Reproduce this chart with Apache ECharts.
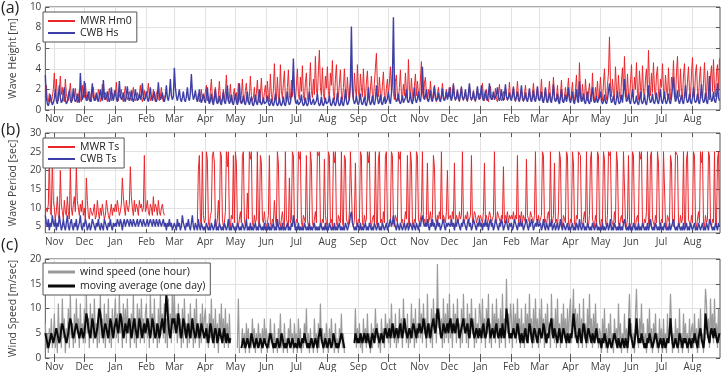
<!DOCTYPE html>
<html>
<head>
<meta charset="utf-8">
<script src="https://cdn.jsdelivr.net/npm/echarts@6/dist/echarts.min.js"></script>
<style>
  html, body { margin: 0; padding: 0; background: #fff; }
  #chart { width: 724px; height: 372px; }
</style>
</head>
<body>
<div id="chart"></div>
<script>
// each series is kept as one row of daily values per month, starting at monthStarts[m]
const monthStarts = ['2013-10-23', '2013-11-01', '2013-12-01', '2014-01-01', '2014-02-01', '2014-03-01',
  '2014-04-01', '2014-05-01', '2014-06-01', '2014-07-01', '2014-08-01', '2014-09-01', '2014-10-01',
  '2014-11-01', '2014-12-01', '2015-01-01', '2015-02-01', '2015-03-01', '2015-04-01', '2015-05-01',
  '2015-06-01', '2015-07-01', '2015-08-01'];
const monthNames = ['Jan', 'Feb', 'Mar', 'Apr', 'May', 'Jun', 'Jul', 'Aug', 'Sep', 'Oct', 'Nov', 'Dec'];
const monthTicks = monthStarts.slice(1);
const xStart = '2013-10-23';
const xEnd = '2015-08-28T12:00:00Z';

const heightTicks = [0, 2, 4, 6, 8, 10];
const windTicks = [0, 5, 10, 15, 20];

// (a) wave height [m]
const mwrHm0 = [
  [1.2,2.4,1.0,0.8,1.6,1.1,0.7,1.3,2.0],
  [3.6,1.4,3.0,1.2,0.9,1.8,3.3,1.5,2.2,1.0,0.8,3.0,1.6,1.1,0.9,1.7,2.6,1.3,0.9,1.5,1.2,2.1,1.0,0.7,1.3,1.9,1.1,0.8,2.4,1.4],
  [1.2,2.6,1.5,0.9,1.1,1.8,1.3,0.8,1.6,2.2,1.2,0.9,1.4,1.0,2.0,1.5,0.8,1.2,2.5,1.4,1.0,1.7,1.2,0.8,1.4,2.1,1.3,0.9,1.6,1.1,1.9],
  [1.4,2.7,1.3,0.9,1.5,1.2,2.0,1.1,0.8,1.6,2.3,1.3,1.0,1.4,1.8,1.2,0.9,1.5,2.2,1.1,0.9,1.3,1.7,1.0,1.5,2.4,1.2,0.8,1.3,1.9,1.1],
  [1.0,1.6,2.6,1.3,0.9,1.4,1.1,2.0,1.2,0.8,1.5,1.9,1.1,0.9,1.3,2.2,1.2,0.8,1.4,null,null,null,null,null,null,null,null,null],
  [null,null,null,null,null,null,null,null,null,null,null,null,null,null,null,null,null,null,null,null,null,null,null,1.0,1.6,0.8,1.2,2.0,0.9,1.4,1.1],
  [1.2,2.4,0.9,1.3,0.7,1.8,3.0,1.1,0.8,1.5,2.2,0.9,0.7,1.4,2.8,1.2,0.8,1.1,2.0,0.9,1.6,3.4,1.3,0.8,1.2,2.5,1.0,0.7,1.5,2.1],
  [1.0,1.7,0.8,2.6,1.2,0.7,1.4,3.0,1.1,0.8,1.9,2.6,1.0,0.7,1.3,3.3,1.4,0.9,1.2,2.2,0.8,1.6,2.9,1.1,0.7,1.5,3.1,1.2,0.8,1.7,2.4],
  [1.0,2.8,1.3,0.8,3.5,1.5,0.9,2.0,4.5,1.6,1.0,3.2,1.2,0.8,4.4,1.9,1.1,2.6,3.8,1.2,0.8,2.2,3.9,1.4,0.9,2.9,1.3,3.6,1.5,1.0],
  [2.4,4.0,1.5,1.0,3.2,1.8,4.3,1.4,0.9,2.7,3.6,1.2,0.8,2.2,4.6,1.9,1.2,3.0,1.5,5.2,2.0,1.3,3.8,5.8,2.2,1.4,4.1,1.6,1.0,3.3,2.1],
  [4.2,1.8,1.1,3.6,2.4,4.8,1.7,1.0,3.0,4.4,1.9,1.2,2.6,3.9,1.5,1.0,2.2,4.0,1.8,1.1,3.2,1.4,0.9,2.5,4.2,1.6,1.0,3.6,2.0,1.2,4.4],
  [1.8,1.1,3.5,2.2,1.3,4.0,1.6,1.0,2.7,3.8,1.4,0.9,2.0,3.3,1.5,1.0,2.6,4.1,5.5,2.4,1.3,3.2,1.6,1.0,2.4,3.7,1.4,0.9,2.1,3.0],
  [1.5,2.6,4.2,1.8,3.8,1.6,1.0,2.8,3.4,1.3,0.9,2.2,3.9,1.5,1.0,2.5,1.4,3.6,1.7,1.0,4.9,2.0,1.2,3.1,1.5,0.9,2.3,3.5,1.4,2.8,1.6],
  [1.2,3.0,4.7,1.8,1.1,2.6,3.2,1.4,0.9,2.0,1.2,2.8,1.5,0.9,1.8,2.4,1.1,0.8,1.6,2.2,1.2,0.9,1.5,2.6,1.3,0.9,1.4,2.0,1.1,1.7],
  [1.3,2.2,1.0,1.5,2.6,1.4,0.9,1.3,2.0,1.1,0.8,1.6,2.3,1.2,0.9,1.4,1.8,1.1,0.8,1.5,2.4,1.3,0.9,1.2,1.9,1.0,0.8,1.4,2.1,1.2,1.6],
  [1.1,1.8,2.6,1.2,0.9,1.5,2.0,1.1,0.8,1.4,2.3,1.3,1.0,1.6,1.2,2.1,1.0,0.8,1.5,2.5,1.3,0.9,1.2,1.8,1.0,2.2,1.4,0.9,1.3,2.7,1.2],
  [1.0,1.6,2.3,1.1,0.8,1.4,2.8,1.3,0.9,1.2,1.9,1.0,0.8,1.5,2.4,1.2,0.9,1.3,2.0,1.1,0.8,1.6,2.6,1.2,0.9,1.4,2.2,1.1],
  [0.9,1.5,3.0,1.2,0.8,1.3,2.1,1.0,0.7,1.6,2.8,1.2,0.8,1.4,3.2,1.3,0.9,1.2,2.4,1.0,0.7,1.5,2.9,1.1,0.8,1.3,2.2,1.0,1.8,3.1,1.2],
  [0.9,1.6,2.7,1.1,0.8,1.9,3.4,1.2,0.9,4.6,1.8,1.0,2.5,1.3,0.8,3.0,1.4,0.9,1.6,2.6,1.1,0.8,3.6,1.5,0.9,2.2,1.2,2.8,1.0,1.7],
  [3.2,1.4,0.9,2.6,4.0,1.5,1.0,2.4,3.6,7.1,2.5,1.3,3.0,1.6,1.0,4.2,2.0,1.2,3.4,1.5,0.9,2.8,4.1,1.6,5.2,2.2,1.2,3.5,1.5,1.0,2.6],
  [4.4,1.8,1.1,3.2,2.0,4.6,1.6,1.0,3.8,2.2,1.3,4.3,1.8,1.1,3.0,4.0,1.7,5.8,2.4,1.4,3.6,1.7,4.6,2.0,1.2,3.4,4.2,1.6,1.0,3.0],
  [2.2,4.5,1.8,1.1,3.4,2.0,1.3,4.1,1.7,1.0,3.2,2.3,4.8,1.9,1.2,3.6,5.2,2.1,1.3,4.0,1.8,1.1,3.3,4.5,1.8,1.1,2.8,4.2,1.9,1.2,3.5],
  [5.1,2.0,1.2,3.6,4.4,1.8,1.1,3.0,4.2,1.7,1.0,2.6,4.6,2.0,1.2,3.8,1.7,1.0,3.2,4.3,1.8,4.9,2.1,1.3,3.7,4.4,1.9,5.0]
];
const cwbHs = [
  [3.4,1.2,0.6,0.4,0.8,1.5,0.9,0.5,0.7],
  [1.1,2.0,0.9,0.6,1.3,2.4,1.2,0.7,0.9,1.6,2.2,1.0,0.6,0.8,1.4,1.9,1.0,0.7,1.2,2.1,1.1,0.8,1.0,1.6,0.9,0.7,3.6,1.8,1.0,1.3],
  [2.8,1.4,0.9,1.2,1.8,1.0,0.8,1.5,2.6,1.3,0.9,1.1,1.7,1.0,0.8,1.4,2.0,1.2,0.9,2.9,1.5,1.0,1.2,1.8,1.1,0.8,1.3,2.2,1.2,0.9,1.4],
  [1.9,1.1,0.8,1.3,2.8,1.4,1.0,1.2,1.7,1.0,0.8,1.5,2.3,1.2,0.9,1.3,1.9,1.1,0.8,1.2,2.0,1.3,0.9,1.1,1.6,1.0,1.4,2.6,1.2,0.9,1.3],
  [1.8,1.1,0.8,1.4,2.2,1.2,0.9,1.3,1.8,1.0,0.8,1.2,2.7,1.4,1.0,1.2,1.7,1.1,0.8,1.3,2.4,1.2,0.9,1.5,3.0,1.4,1.0,1.3],
  [4.1,2.2,1.3,0.9,1.4,2.0,1.1,0.8,1.2,1.8,1.0,0.8,1.3,2.2,1.2,0.9,1.6,3.5,1.7,1.0,1.3,1.9,1.1,0.8,1.2,2.0,1.0,0.7,1.1,1.6,0.9],
  [0.7,1.3,2.2,1.0,0.6,0.9,1.6,0.8,0.5,1.1,2.0,0.9,0.6,0.8,1.4,0.7,0.5,1.0,1.8,0.8,0.6,1.2,2.4,1.0,0.6,0.9,1.5,0.7,0.5,1.0],
  [1.6,0.8,0.5,0.9,2.6,1.1,0.6,0.8,1.4,0.7,0.5,1.0,1.8,0.8,0.5,0.9,1.3,0.6,0.4,0.8,1.5,0.7,0.5,1.1,2.0,0.8,0.5,0.7,1.2,0.6,0.5],
  [0.8,1.4,0.7,0.4,0.6,1.1,0.6,0.4,0.8,1.6,0.7,0.4,0.6,1.2,0.6,0.4,0.7,1.3,0.6,0.4,0.9,1.8,0.8,0.5,0.7,1.4,2.2,5.0,1.6,0.8],
  [0.6,1.0,0.5,0.4,0.8,1.5,0.7,0.4,0.6,1.2,0.6,0.4,0.7,1.8,0.8,0.5,0.6,1.1,0.5,0.4,0.9,1.6,0.7,0.4,0.6,1.3,0.6,0.4,0.7,1.2,0.6],
  [0.5,0.8,1.4,0.6,0.4,0.7,1.2,0.6,0.4,0.8,1.7,0.7,0.4,0.6,1.3,0.6,0.4,0.9,2.0,0.9,0.5,0.7,1.2,2.8,8.1,2.4,1.0,0.6,0.8,1.4,0.7],
  [0.5,0.9,1.6,0.7,0.5,0.8,1.3,0.6,0.4,0.9,2.2,0.9,0.5,0.7,1.4,0.7,0.5,1.0,2.4,1.2,0.6,0.8,1.5,0.7,0.5,0.9,1.3,0.6,0.5,1.1],
  [1.8,0.9,0.6,1.6,3.0,9.0,2.6,1.2,0.8,1.0,1.6,0.8,0.6,0.9,1.4,0.7,0.6,1.2,2.0,0.9,0.7,1.0,1.7,0.8,0.6,1.3,2.2,1.0,0.7,1.1,1.8],
  [1.0,0.8,1.6,4.2,1.8,1.0,1.3,2.0,1.1,0.8,1.2,1.9,1.0,0.8,1.4,2.3,1.2,0.9,1.1,1.7,1.0,0.8,1.3,2.1,1.1,0.9,1.2,1.8,1.0,1.4],
  [2.2,1.2,0.9,1.4,2.5,1.3,1.0,1.2,1.9,1.1,0.9,1.5,2.2,1.2,1.0,1.3,2.0,1.1,0.9,1.6,2.6,1.3,1.0,1.2,1.8,1.1,0.9,1.4,2.3,1.2,1.0],
  [1.5,2.4,1.2,0.9,1.3,1.9,1.1,0.9,1.6,2.6,1.3,1.0,1.2,1.8,1.0,0.9,1.5,2.2,1.2,0.9,1.3,2.0,1.1,0.9,1.4,2.5,1.3,1.0,1.2,1.7,1.1],
  [0.9,1.4,2.2,1.2,0.9,1.3,1.8,1.0,0.8,1.5,2.4,1.2,0.9,1.1,1.7,1.0,0.8,1.3,2.1,1.1,0.8,1.2,1.9,1.0,0.8,1.4,2.3,1.1],
  [0.9,1.2,1.8,0.9,0.7,1.3,2.2,1.0,0.7,1.1,1.7,0.9,0.7,1.4,2.5,1.1,0.8,1.0,1.6,0.8,0.6,1.2,2.0,0.9,0.7,1.0,1.5,0.8,1.3,2.2,1.0],
  [0.7,1.1,1.8,0.8,0.6,1.2,2.0,0.9,0.7,2.8,1.3,0.8,1.0,1.6,0.8,0.6,1.1,1.8,0.8,0.6,1.0,1.5,2.2,1.0,0.7,0.9,1.4,0.7,0.6,1.2],
  [1.8,0.9,0.6,0.8,1.5,0.8,0.6,1.0,1.8,2.6,1.2,0.7,0.9,1.4,0.7,0.5,1.1,1.8,0.8,0.6,0.9,1.5,0.7,0.6,3.0,1.4,0.8,1.0,1.6,0.8,0.6],
  [1.2,2.0,0.9,0.6,0.8,1.4,0.7,0.5,1.0,1.8,0.8,0.6,0.9,1.5,0.7,0.5,1.1,2.4,1.1,0.7,0.9,1.6,0.8,0.6,1.0,1.7,0.8,0.6,1.2,2.0],
  [0.9,0.6,1.1,1.8,0.8,0.6,1.0,1.6,0.8,0.6,1.2,2.2,3.2,1.4,0.8,1.1,1.9,0.9,0.6,1.0,1.5,0.8,0.6,1.3,2.4,1.1,0.7,0.9,1.6,0.8,0.6],
  [1.2,2.2,1.0,0.7,0.9,1.6,0.8,0.6,1.3,2.5,1.1,0.7,0.9,1.7,0.8,0.6,1.4,3.3,1.4,0.8,1.0,1.8,0.9,0.7,1.2,2.6,1.2,0.9]
];

// (b) wave period [sec]
const mwrTs = [
  [8,10,9,11,24,9,8,23,12],
  [10,7,9,13,8,7,20,11,9,7,12,9,8,13,9,7,21,10,8,11,13,9,21,12,10,8,11,9,12,8],
  [10,7,18,12,8,7,10,9,8,9,11,7,8,12,9,7,10,8,11,9,7,8,12,10,8,7,9,11,8,10,9],
  [11,9,12,10,8,9,11,18,13,10,8,12,10,9,11,21,13,10,8,12,9,11,10,8,12,10,11,9,10,24,9],
  [10,12,9,8,11,10,8,13,9,11,10,8,12,9,8,10,11,9,8,null,null,null,null,null,null,null,null,null],
  [null,null,null,null,null,null,null,null,null,null,null,null,null,null,null,null,null,null,null,null,null,null,null,6,20,24,7,5,25,8,6],
  [7,25,23,6,5,8,9,24,25,22,6,5,7,12,6,25,24,7,5,6,9,25,21,25,6,5,8,7,24,6],
  [25,22,6,5,7,9,6,24,25,7,5,6,14,7,25,23,25,6,5,8,6,7,25,6,5,24,22,7,6,9,6],
  [5,6,8,24,6,5,7,6,12,7,5,25,22,6,5,7,9,6,5,25,7,6,5,18,6,7,25,24,6,5],
  [7,6,25,23,25,6,5,8,7,6,24,7,5,6,25,22,6,5,7,9,6,25,24,25,6,5,7,6,23,8,6],
  [5,25,24,6,7,5,25,22,25,6,5,8,7,6,25,6,5,24,23,7,6,5,9,25,25,6,5,7,22,6,5],
  [7,6,25,24,6,5,8,6,7,25,22,25,6,5,7,8,6,25,6,5,23,25,6,7,5,9,6,24,25,6],
  [6,5,7,25,24,6,5,8,7,6,25,23,25,6,7,5,6,9,7,24,6,5,25,22,6,5,7,6,25,24,7],
  [6,7,9,25,6,7,5,8,22,6,7,9,6,8,24,21,7,6,8,7,9,7,25,6,8,7,6,9,20,7],
  [7,8,6,9,7,22,6,8,7,6,9,7,8,25,7,6,8,7,9,6,7,8,24,6,7,9,8,6,7,8,7],
  [8,7,6,9,22,7,8,6,7,9,8,6,7,8,25,7,6,9,8,7,6,8,7,21,6,8,7,9,6,8,7],
  [8,7,9,6,8,7,24,6,8,7,9,6,8,7,6,23,8,7,6,9,8,7,6,8,25,7,6,8],
  [6,7,8,25,24,6,7,5,8,9,6,25,7,6,8,22,6,7,5,9,25,23,6,5,8,7,6,25,24,6,5],
  [7,6,25,22,6,5,8,7,25,25,24,6,5,7,9,6,25,6,5,8,23,25,7,6,5,8,6,25,24,6],
  [5,7,6,25,23,6,5,8,25,24,25,7,6,5,9,6,25,22,6,5,7,8,6,25,25,6,5,7,24,6,5],
  [6,25,24,6,5,7,8,6,25,23,25,6,5,7,6,9,25,6,5,24,25,7,6,5,8,6,25,22,6,5],
  [7,6,25,25,6,5,8,7,6,24,22,6,5,7,25,25,24,6,5,8,6,7,25,6,5,23,25,7,6,5,8],
  [6,25,24,6,5,7,9,6,25,22,25,6,5,8,6,7,25,24,6,5,7,6,25,6,5,23,25,6]
];
const cwbTs = [
  [8,6,5,7,4,6,5,8,6],
  [5,7,4,6,5,8,6,4,5,7,5,4,6,8,5,4,6,7,5,4,6,5,7,4,5,6,8,5,4,6],
  [5,7,6,4,5,6,4,5,7,6,5,4,6,5,7,5,4,6,5,4,7,6,5,4,6,5,7,5,4,6,5],
  [6,5,7,6,5,7,6,4,6,7,5,6,7,6,5,7,6,5,7,6,5,6,7,5,6,7,6,5,7,6,5],
  [6,7,5,6,7,6,5,7,6,5,7,6,5,7,6,5,6,7,5,6,4,6,5,7,5,6,4,5],
  [6,5,4,7,5,6,4,5,8,6,5,4,6,5,7,5,4,6,8,5,4,6,5,4,7,5,4,6,5,4,5],
  [4,6,5,4,5,4,6,5,4,5,7,4,5,4,6,5,4,5,4,6,5,4,5,7,4,5,4,6,5,4],
  [5,4,6,5,4,5,4,6,5,4,5,7,4,5,4,6,4,5,4,5,6,4,5,4,6,5,4,5,4,6,4],
  [5,4,6,4,5,4,5,6,4,5,4,7,5,4,5,4,6,4,5,4,5,6,4,5,4,6,5,8,6,4],
  [5,4,6,4,5,4,5,4,6,5,4,5,4,6,4,5,4,5,6,4,5,4,5,4,6,5,4,5,4,6,4],
  [5,4,6,5,4,5,4,6,4,5,4,5,6,4,5,4,5,4,6,5,4,5,6,8,9,6,5,4,5,4,6],
  [5,4,6,4,5,4,5,6,4,5,4,6,5,4,5,4,6,5,4,5,6,4,5,4,6,5,4,5,6,4],
  [5,6,7,5,6,8,6,5,4,6,5,4,6,5,4,5,6,4,5,6,4,5,6,5,4,6,5,4,6,5,4],
  [6,5,7,8,6,5,6,5,7,5,4,6,5,7,5,6,4,5,7,5,6,4,5,6,7,5,4,6,5,6],
  [6,5,7,5,6,4,6,5,7,6,5,4,6,5,7,6,5,4,6,7,5,6,4,5,7,6,5,4,6,5,7],
  [5,6,4,6,5,7,5,6,4,6,7,5,6,4,5,7,6,5,4,6,5,7,6,4,5,6,7,5,4,6,5],
  [6,4,5,7,6,5,4,6,5,7,5,6,4,5,6,7,5,4,6,5,7,6,4,5,6,5,7,5],
  [5,6,4,5,7,5,4,6,5,4,6,5,7,4,5,6,4,5,6,4,5,7,5,4,6,5,4,5,6,4,5],
  [4,5,6,4,5,4,6,5,4,7,5,4,5,6,4,5,4,6,5,4,5,4,6,5,4,5,6,4,5,4],
  [5,4,6,4,5,4,5,6,4,5,7,4,5,4,6,5,4,5,4,6,4,5,4,6,7,5,4,5,4,6,4],
  [5,4,6,5,4,5,4,6,4,5,4,6,5,4,5,4,6,4,5,7,5,4,5,4,6,5,4,5,4,6],
  [4,5,4,6,5,4,5,4,6,4,5,6,7,5,4,5,4,6,5,4,5,4,6,4,5,6,4,5,4,6,5],
  [4,5,6,4,5,4,6,5,4,5,6,4,5,4,6,5,4,7,6,5,4,5,4,6,5,4,6,5]
];

// (c) wind speed [m/sec]
const windHour = [
  [7,2,5,1,6,3,8,2,4],
  [9,2,6,1,11,3,7,2,12,4,8,1,6,3,10,2,13,4,7,2,9,3,12,5,8,2,11,4,7,3],
  [10,3,13,5,8,2,11,4,9,3,12,5,7,2,10,3,13,4,8,3,11,2,9,4,12,3,7,2,10,4,8],
  [12,4,9,3,13,5,8,2,11,4,10,3,12,5,7,2,9,4,13,3,8,2,11,4,10,3,12,5,8,3,9],
  [11,4,8,2,13,5,9,3,12,4,7,2,10,3,13,6,9,4,11,3,8,2,12,4,9,3,14,5],
  [13,5,9,3,11,4,8,2,10,3,12,5,7,2,9,3,11,4,8,2,10,3,12,4,7,2,9,3,11,4,8],
  [10,3,7,2,9,4,12,3,8,2,10,3,7,1,9,4,11,3,8,2,10,3,7,2,9,3,null,null,null,null],
  [null,null,2,12,1,null,3,6,2,5,1,7,3,6,1,5,2,8,3,6,1,5,2,7,3,5,1,6,2,8,3],
  [6,1,5,2,8,3,5,1,7,2,4,1,6,3,9,2,5,1,7,2,4,1,6,3,8,2,5,1,7,3],
  [5,1,8,2,6,1,4,2,7,3,10,2,5,1,6,2,4,1,8,3,5,1,7,2,11,3,6,1,5,2,7],
  [4,1,6,2,8,3,5,1,7,2,4,1,6,3,9,2,5,1,null,null,null,null,null,null,null,null,null,3,10,2,6],
  [3,7,2,5,1,8,3,6,2,9,3,5,1,7,2,6,3,10,4,7,2,5,1,8,3,6,2,9,4,7],
  [3,8,2,11,4,7,3,9,2,6,3,10,4,8,2,12,5,7,3,9,2,6,3,11,4,8,2,10,3,7,4],
  [12,4,9,3,11,5,8,2,13,4,7,3,10,2,12,5,9,3,19,6,10,4,8,2,12,3,9,4,11,3],
  [13,4,8,2,11,5,9,3,12,4,7,2,10,3,13,5,8,3,11,2,9,4,12,5,8,2,10,3,7,4,11],
  [9,3,12,4,8,2,10,5,13,3,7,2,11,4,9,3,12,5,8,2,10,3,13,4,8,2,16,5,9,3,11],
  [8,2,11,4,9,3,12,5,8,2,10,3,7,2,11,4,9,3,13,5,8,2,10,3,12,4,8,2],
  [10,3,12,4,8,2,9,3,11,5,7,2,13,4,8,3,10,2,12,4,7,2,9,3,11,4,8,2,10,3,9],
  [12,3,8,14,4,10,5,9,2,11,3,8,2,12,4,7,2,10,3,13,4,8,2,9,3,11,4,7,2,6],
  [5,1,8,3,10,2,6,1,7,3,9,2,5,1,8,3,6,2,11,3,7,1,5,2,9,3,6,1,8,13,5],
  [7,2,5,1,9,14,6,2,8,4,11,3,7,2,5,1,8,3,10,2,6,1,7,3,9,2,5,1,8,3],
  [6,1,8,2,5,1,9,3,6,13,7,1,5,2,8,3,6,1,10,2,5,1,9,3,7,2,5,1,8,2,6],
  [7,2,9,3,6,1,8,2,10,3,5,1,7,14,11,4,8,2,12,5,9,3,12,4,7,2,10,3]
];
const windDay = [
  [5,4,3,2,3,4,5,4,3],
  [4,5,6,5,4,3,4,6,7,6,5,4,3,4,5,7,8,7,5,4,5,6,7,6,5,4,5,6,5,4],
  [5,7,9,8,6,5,4,6,8,7,5,4,5,6,8,10,9,7,5,4,6,7,6,5,4,6,8,7,5,4,6],
  [7,8,6,5,7,9,8,6,4,5,7,6,5,7,8,6,4,5,7,8,6,5,4,6,8,7,5,4,6,7,5],
  [6,8,7,5,4,6,8,7,5,4,5,7,6,4,5,7,8,6,5,9,13,10,7,5,4,6,8,7],
  [8,6,5,7,9,7,5,4,6,8,7,5,4,6,7,5,4,6,8,6,5,4,5,7,6,4,5,7,6,5,4],
  [5,6,4,3,5,7,6,4,3,5,6,5,3,4,6,5,4,3,5,6,4,3,5,4,3,4,null,null,null,null],
  [null,null,null,null,null,null,2,3,4,3,2,3,4,3,2,3,5,4,3,2,3,4,3,2,3,4,3,2,3,4,3],
  [3,2,3,4,5,4,3,2,3,2,3,4,3,2,3,5,4,3,2,3,2,3,4,3,2,3,4,3,2,3],
  [3,2,4,3,2,3,4,3,5,4,3,2,3,2,3,4,3,2,3,4,3,2,4,5,6,4,3,2,3,4,3],
  [2,3,4,3,2,3,5,4,3,2,3,2,3,4,5,4,3,2,null,null,null,null,null,null,null,null,null,3,5,4,3],
  [4,3,5,4,3,4,5,4,3,5,4,3,2,4,5,4,3,5,6,5,4,3,4,5,4,3,5,6,5,4],
  [5,6,4,5,7,6,4,5,6,5,4,6,7,5,4,6,8,6,5,4,5,6,5,4,6,7,6,5,4,6,5],
  [7,6,5,6,8,7,5,4,6,7,5,4,6,7,8,6,5,7,10,9,7,5,4,5,7,6,5,6,7,5],
  [7,8,6,5,7,6,5,7,8,6,4,5,6,7,8,6,5,6,7,5,4,6,8,7,5,4,5,6,5,4,6],
  [5,4,6,7,5,4,5,7,8,6,4,5,6,5,4,6,7,5,4,5,6,4,7,5,4,6,10,8,6,4,5],
  [4,5,6,5,4,5,7,6,4,3,5,4,3,5,6,4,3,5,7,6,4,3,5,6,5,4,3,5],
  [6,5,4,5,7,6,4,3,5,4,6,7,8,5,4,6,5,4,3,5,6,4,3,5,6,5,4,3,5,4,3],
  [5,4,6,9,7,5,4,3,5,6,4,3,5,7,6,4,3,5,6,5,4,3,5,4,3,5,6,4,3,4],
  [3,2,4,3,5,4,3,2,3,4,3,2,3,4,5,4,3,2,4,3,2,3,4,3,2,4,3,2,4,8,5],
  [4,3,2,3,5,8,5,3,4,3,5,4,3,2,3,2,4,3,5,4,3,2,3,4,5,4,3,2,3,4],
  [3,2,4,3,2,3,4,3,5,8,5,3,2,3,4,3,2,3,5,4,3,2,4,3,4,3,2,3,4,3,2],
  [4,3,5,4,3,2,4,5,6,4,3,2,4,9,7,5,4,3,5,6,5,4,6,5,4,3,4,5]
];

const DAY = 86400000;
function daily(months) {
  const pts = [];
  months.forEach((vals, m) => {
    const t0 = Date.parse(monthStarts[m]);
    vals.forEach((v, j) => pts.push([t0 + j * DAY, v]));
  });
  return pts;
}

const tickTimes = monthTicks.map(d => Date.parse(d));
const xMin = Date.parse(xStart);
const xMax = Date.parse(xEnd);
const textColor = '#404040';
const font = 'Open Sans';

const chart = echarts.init(document.getElementById('chart'));

const panels = [
  {top: 7, height: 103},
  {top: 133, height: 100},
  {top: 259, height: 103}
];

function xAxisFor(i, top) {
  return {
    type: 'value', gridIndex: i, min: xMin, max: xMax, position: top ? 'top' : 'bottom',
    axisLine: {show: false},
    axisTick: {show: true, inside: true, length: 4, customValues: tickTimes, lineStyle: {color: '#555'}},
    axisLabel: {
      show: !top, customValues: tickTimes, color: textColor, fontSize: 10, fontFamily: font, margin: 4,
      formatter: v => monthNames[new Date(v).getUTCMonth()]
    },
    splitLine: {show: !top, lineStyle: {color: '#e2e2e2', width: 1}}
  };
}

function yAxisFor(i, cfg, right) {
  return Object.assign({
    type: 'value', gridIndex: i, position: right ? 'right' : 'left',
    name: right ? '' : cfg.name, nameLocation: 'middle', nameGap: 23,
    nameTextStyle: {color: textColor, fontSize: 10.5, fontFamily: font},
    axisLine: {show: false},
    axisTick: {show: true, inside: true, length: 4, lineStyle: {color: '#555'}},
    axisLabel: {show: !right, color: textColor, fontSize: 10, fontFamily: font, margin: 4, showMinLabel: cfg.showMin},
    splitLine: {show: !right, lineStyle: {color: '#e2e2e2'}}
  }, cfg.scale);
}

const yCfg = [
  {name: 'Wave Height [m]', showMin: true, scale: {min: heightTicks[0], max: heightTicks[heightTicks.length - 1], interval: 2}},
  {name: 'Wave Period [sec]', showMin: false, scale: {min: 3.3, max: 30}},
  {name: 'Wind Speed [m/sec]', showMin: true, scale: {min: windTicks[0], max: windTicks[windTicks.length - 1], interval: 5}}
];

const xAxes = [], yAxes = [];
for (let i = 0; i < 3; i++) {
  xAxes.push(xAxisFor(i, false));
  yAxes.push(yAxisFor(i, yCfg[i], false));
}
for (let i = 0; i < 3; i++) {
  xAxes.push(xAxisFor(i, true));
  yAxes.push(yAxisFor(i, yCfg[i], true));
}

function line(name, data, idx, color, width) {
  return {
    name: name, type: 'line', xAxisIndex: idx, yAxisIndex: idx, data: daily(data),
    showSymbol: false, symbol: 'none', connectNulls: false,
    lineStyle: {color: color, width: width}, itemStyle: {color: color},
    emphasis: {disabled: true}
  };
}

function legendFor(names, left, top, gap, h) {
  return {
    data: names, left: left, top: top, orient: 'vertical', selectedMode: false,
    icon: 'rect', itemWidth: 27, itemHeight: h, itemGap: gap,
    backgroundColor: '#fff', borderColor: '#555', borderWidth: 1, borderRadius: 0,
    padding: [3, 5, 3, 5],
    textStyle: {color: '#222', fontSize: 10.5, fontFamily: font, lineHeight: 12}
  };
}

chart.setOption({
  animation: false,
  grid: panels.map(p => ({left: 36, right: 4, top: p.top, height: p.height, show: true,
    borderColor: '#555', borderWidth: 1, backgroundColor: '#fff'})),
  xAxis: xAxes,
  yAxis: yAxes,
  legend: [
    legendFor(['MWR Hm0', 'CWB Hs'], 43, 12, 0, 2),
    legendFor(['MWR Ts', 'CWB Ts'], 43, 138, 0, 2),
    legendFor(['wind speed (one hour)', 'moving average (one day)'], 43, 263, 2, 3)
  ],
  graphic: [
    {type: 'text', left: 1, top: 0, style: {text: '(a)', fontSize: 16, fontFamily: font, fill: '#222'}},
    {type: 'text', left: 1, top: 122, style: {text: '(b)', fontSize: 16, fontFamily: font, fill: '#222'}},
    {type: 'text', left: 1, top: 237, style: {text: '(c)', fontSize: 16, fontFamily: font, fill: '#222'}}
  ],
  series: [
    line('MWR Hm0', mwrHm0, 0, '#e8262b', 1),
    line('CWB Hs', cwbHs, 0, '#3e3fa6', 1.4),
    line('MWR Ts', mwrTs, 1, '#e8262b', 1),
    line('CWB Ts', cwbTs, 1, '#3e3fa6', 1.4),
    line('wind speed (one hour)', windHour, 2, '#9a9a9a', 1.2),
    line('moving average (one day)', windDay, 2, '#0a0a0a', 2)
  ]
});
</script>
</body>
</html>
